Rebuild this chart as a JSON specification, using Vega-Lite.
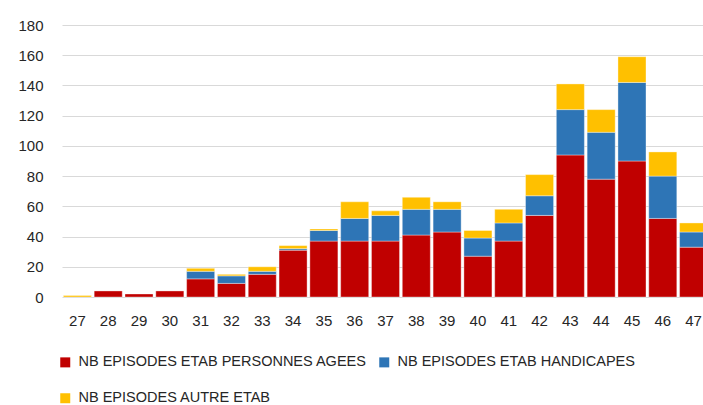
{
  "$schema": "https://vega.github.io/schema/vega-lite/v6.json",
  "autosize": {"type": "none"},
  "padding": {"left": 62, "top": 25, "right": 0, "bottom": 108},
  "width": 641,
  "height": 272,
  "background": "white",
  "config": {
    "view": {"stroke": null},
    "font": "Liberation Sans"
  },
  "data": {
    "values": [
      {"semaine": "27", "type": "NB EPISODES AUTRE ETAB", "n": 1},
      {"semaine": "28", "type": "NB EPISODES ETAB PERSONNES AGEES", "n": 4},
      {"semaine": "29", "type": "NB EPISODES ETAB PERSONNES AGEES", "n": 2},
      {"semaine": "30", "type": "NB EPISODES ETAB PERSONNES AGEES", "n": 4},
      {"semaine": "31", "type": "NB EPISODES ETAB PERSONNES AGEES", "n": 12},
      {"semaine": "31", "type": "NB EPISODES ETAB HANDICAPES", "n": 5},
      {"semaine": "31", "type": "NB EPISODES AUTRE ETAB", "n": 2},
      {"semaine": "32", "type": "NB EPISODES ETAB PERSONNES AGEES", "n": 9},
      {"semaine": "32", "type": "NB EPISODES ETAB HANDICAPES", "n": 5},
      {"semaine": "32", "type": "NB EPISODES AUTRE ETAB", "n": 1},
      {"semaine": "33", "type": "NB EPISODES ETAB PERSONNES AGEES", "n": 15},
      {"semaine": "33", "type": "NB EPISODES ETAB HANDICAPES", "n": 2},
      {"semaine": "33", "type": "NB EPISODES AUTRE ETAB", "n": 3},
      {"semaine": "34", "type": "NB EPISODES ETAB PERSONNES AGEES", "n": 31},
      {"semaine": "34", "type": "NB EPISODES ETAB HANDICAPES", "n": 1},
      {"semaine": "34", "type": "NB EPISODES AUTRE ETAB", "n": 2},
      {"semaine": "35", "type": "NB EPISODES ETAB PERSONNES AGEES", "n": 37},
      {"semaine": "35", "type": "NB EPISODES ETAB HANDICAPES", "n": 7},
      {"semaine": "35", "type": "NB EPISODES AUTRE ETAB", "n": 1},
      {"semaine": "36", "type": "NB EPISODES ETAB PERSONNES AGEES", "n": 37},
      {"semaine": "36", "type": "NB EPISODES ETAB HANDICAPES", "n": 15},
      {"semaine": "36", "type": "NB EPISODES AUTRE ETAB", "n": 11},
      {"semaine": "37", "type": "NB EPISODES ETAB PERSONNES AGEES", "n": 37},
      {"semaine": "37", "type": "NB EPISODES ETAB HANDICAPES", "n": 17},
      {"semaine": "37", "type": "NB EPISODES AUTRE ETAB", "n": 3},
      {"semaine": "38", "type": "NB EPISODES ETAB PERSONNES AGEES", "n": 41},
      {"semaine": "38", "type": "NB EPISODES ETAB HANDICAPES", "n": 17},
      {"semaine": "38", "type": "NB EPISODES AUTRE ETAB", "n": 8},
      {"semaine": "39", "type": "NB EPISODES ETAB PERSONNES AGEES", "n": 43},
      {"semaine": "39", "type": "NB EPISODES ETAB HANDICAPES", "n": 15},
      {"semaine": "39", "type": "NB EPISODES AUTRE ETAB", "n": 5},
      {"semaine": "40", "type": "NB EPISODES ETAB PERSONNES AGEES", "n": 27},
      {"semaine": "40", "type": "NB EPISODES ETAB HANDICAPES", "n": 12},
      {"semaine": "40", "type": "NB EPISODES AUTRE ETAB", "n": 5},
      {"semaine": "41", "type": "NB EPISODES ETAB PERSONNES AGEES", "n": 37},
      {"semaine": "41", "type": "NB EPISODES ETAB HANDICAPES", "n": 12},
      {"semaine": "41", "type": "NB EPISODES AUTRE ETAB", "n": 9},
      {"semaine": "42", "type": "NB EPISODES ETAB PERSONNES AGEES", "n": 54},
      {"semaine": "42", "type": "NB EPISODES ETAB HANDICAPES", "n": 13},
      {"semaine": "42", "type": "NB EPISODES AUTRE ETAB", "n": 14},
      {"semaine": "43", "type": "NB EPISODES ETAB PERSONNES AGEES", "n": 94},
      {"semaine": "43", "type": "NB EPISODES ETAB HANDICAPES", "n": 30},
      {"semaine": "43", "type": "NB EPISODES AUTRE ETAB", "n": 17},
      {"semaine": "44", "type": "NB EPISODES ETAB PERSONNES AGEES", "n": 78},
      {"semaine": "44", "type": "NB EPISODES ETAB HANDICAPES", "n": 31},
      {"semaine": "44", "type": "NB EPISODES AUTRE ETAB", "n": 15},
      {"semaine": "45", "type": "NB EPISODES ETAB PERSONNES AGEES", "n": 90},
      {"semaine": "45", "type": "NB EPISODES ETAB HANDICAPES", "n": 52},
      {"semaine": "45", "type": "NB EPISODES AUTRE ETAB", "n": 17},
      {"semaine": "46", "type": "NB EPISODES ETAB PERSONNES AGEES", "n": 52},
      {"semaine": "46", "type": "NB EPISODES ETAB HANDICAPES", "n": 28},
      {"semaine": "46", "type": "NB EPISODES AUTRE ETAB", "n": 16},
      {"semaine": "47", "type": "NB EPISODES ETAB PERSONNES AGEES", "n": 33},
      {"semaine": "47", "type": "NB EPISODES ETAB HANDICAPES", "n": 10},
      {"semaine": "47", "type": "NB EPISODES AUTRE ETAB", "n": 6}
    ]
  },
  "mark": {"type": "bar", "stroke": "white", "strokeWidth": 0.6, "strokeOpacity": 0.6},
  "encoding": {
    "x": {
      "field": "semaine",
      "type": "ordinal",
      "scale": {
        "domain": ["27","28","29","30","31","32","33","34","35","36","37","38","39","40","41","42","43","44","45","46","47"],
        "range": [0, 647],
        "paddingInner": 0.09,
        "paddingOuter": 0.045
      },
      "axis": {
        "title": null,
        "labelAngle": 0,
        "domain": false,
        "ticks": false,
        "labelPadding": 16,
        "labelFontSize": 15,
        "labelColor": "#262626"
      }
    },
    "y": {
      "field": "n",
      "type": "quantitative",
      "stack": "zero",
      "scale": {"domain": [0, 180], "nice": false},
      "axis": {
        "title": null,
        "values": [0, 20, 40, 60, 80, 100, 120, 140, 160, 180],
        "domain": false,
        "ticks": false,
        "gridColor": "#D9D9D9",
        "gridWidth": 1,
        "labelPadding": 19,
        "labelFontSize": 15,
        "labelColor": "#262626"
      }
    },
    "color": {
      "field": "type",
      "type": "nominal",
      "sort": ["NB EPISODES ETAB PERSONNES AGEES", "NB EPISODES ETAB HANDICAPES", "NB EPISODES AUTRE ETAB"],
      "scale": {
        "domain": ["NB EPISODES ETAB PERSONNES AGEES", "NB EPISODES ETAB HANDICAPES", "NB EPISODES AUTRE ETAB"],
        "range": ["#C00000", "#2E75B6", "#FFC000"]
      },
      "legend": {
        "title": null,
        "orient": "none",
        "legendX": -4,
        "legendY": 330,
        "direction": "horizontal",
        "columns": 2,
        "symbolType": "square",
        "symbolSize": 100,
        "symbolStrokeWidth": 0,
        "labelFontSize": 14.5,
        "labelColor": "#262626",
        "labelOffset": 6,
        "labelLimit": 400,
        "columnPadding": 10,
        "rowPadding": 21,
        "padding": 0
      }
    }
  }
}
